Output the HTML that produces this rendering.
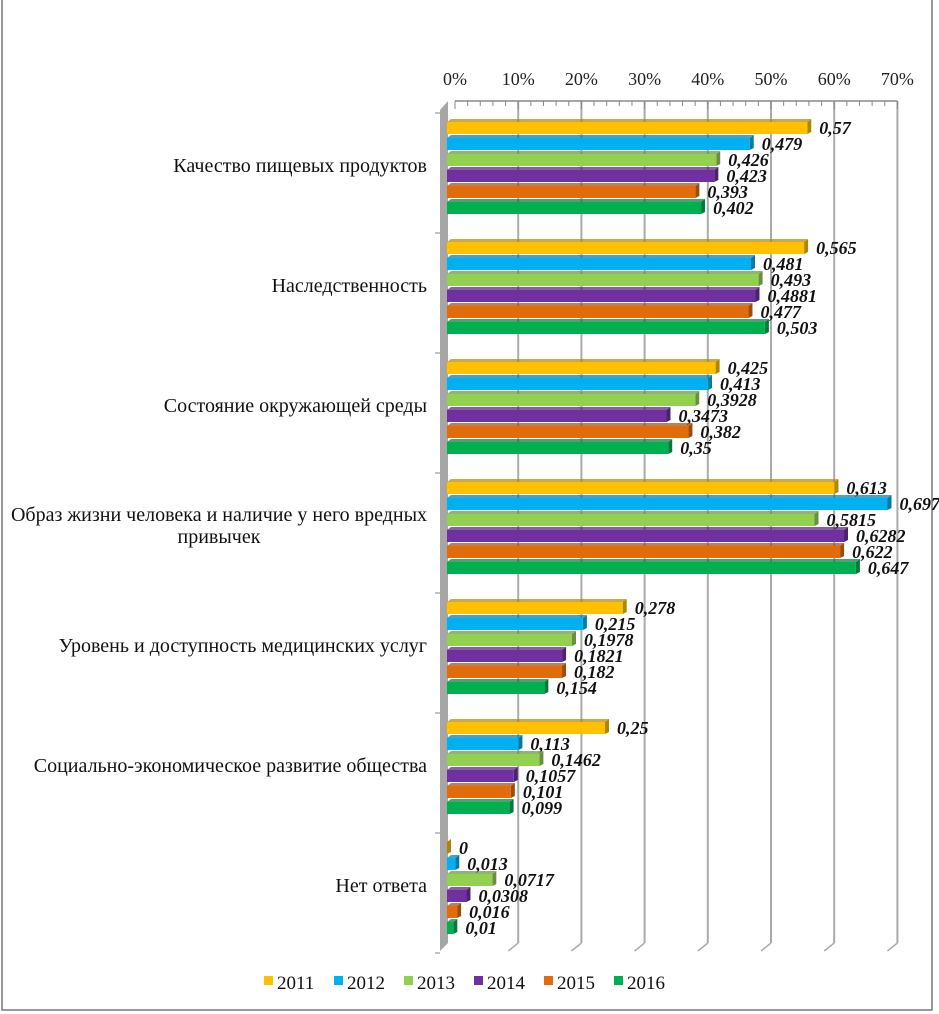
<!DOCTYPE html>
<html><head><meta charset="utf-8"><style>
body{margin:0;background:#fff;width:939px;height:1014px;overflow:hidden}
svg{display:block}
</style></head><body>
<svg id="c" width="939" height="1014" xmlns="http://www.w3.org/2000/svg" font-family="'Liberation Serif', 'DejaVu Serif', serif"></svg>
<script>
const categories=[["Качество пищевых продуктов"],["Наследственность"],["Состояние окружающей среды"],["Образ жизни человека и наличие у него вредных","привычек"],["Уровень и доступность медицинских услуг"],["Социально-экономическое развитие общества"],["Нет ответа"]];
const seriesNames=["2011","2012","2013","2014","2015","2016"];
const v2011=[0.57,0.565,0.425,0.613,0.278,0.25,0];
const v2012=[0.479,0.481,0.413,0.697,0.215,0.113,0.013];
const v2013=[0.426,0.493,0.3928,0.5815,0.1978,0.1462,0.0717];
const v2014=[0.423,0.4881,0.3473,0.6282,0.1821,0.1057,0.0308];
const v2015=[0.393,0.477,0.382,0.622,0.182,0.101,0.016];
const v2016=[0.402,0.503,0.35,0.647,0.154,0.099,0.01];
const labels2011=["0,57","0,565","0,425","0,613","0,278","0,25","0"];
const labels2012=["0,479","0,481","0,413","0,697","0,215","0,113","0,013"];
const labels2013=["0,426","0,493","0,3928","0,5815","0,1978","0,1462","0,0717"];
const labels2014=["0,423","0,4881","0,3473","0,6282","0,1821","0,1057","0,0308"];
const labels2015=["0,393","0,477","0,382","0,622","0,182","0,101","0,016"];
const labels2016=["0,402","0,503","0,35","0,647","0,154","0,099","0,01"];
const ticks=[0,0.1,0.2,0.3,0.4,0.5,0.6,0.7];
const tickLabels=["0%","10%","20%","30%","40%","50%","60%","70%"];
const series=[v2011,v2012,v2013,v2014,v2015,v2016];
const seriesLabels=[labels2011,labels2012,labels2013,labels2014,labels2015,labels2016];
const colors=["#FFC000","#00B0F0","#92D050","#7030A0","#E36C0A","#00B050"];
const dark=["#B08600","#007BA8","#65923A","#4E2170","#9E4C07","#007B38"];
const svg=document.getElementById('c');
const NS="http://www.w3.org/2000/svg";
const FF="Liberation Serif, serif";
function mk(t,a,p){const e=document.createElementNS(NS,t);for(const k in a)e.setAttribute(k,a[k]);(p||svg).appendChild(e);return e;}
const x0=447, scale=632, gOff=8, topY=118, groupH=120, barH=16;
const X=v=>x0+v*scale;
const G=i=>topY+i*groupH;
let f=mk('rect',{x:2,y:-2,width:930,height:1012,fill:'none',stroke:'#777','stroke-width':1.5});

ticks.forEach((t,i)=>{
 const gx=X(t)+gOff;
 if(i>0){const l=mk('line',{x1:gx,y1:101,x2:gx,y2:943,stroke:'#aaa','stroke-width':2});
 
 mk('line',{x1:gx,y1:943,x2:gx-10,y2:951,stroke:'#aaa','stroke-width':1.5});}
 const tx=mk('text',{x:gx,y:85,'text-anchor':'middle','font-size':18,'font-family':FF,fill:'#222'});
 tx.textContent=tickLabels[i];
 
});
for(let k=0;k<=35;k++){const gx=X(k*0.02)+gOff;mk('line',{x1:gx,y1:101,x2:gx,y2:k%5?106:109,stroke:'#888'});}
const ax=mk('line',{x1:X(0)+gOff,y1:101,x2:X(0.7)+gOff,y2:101,stroke:'#888','stroke-width':1.5});

const w=mk('polygon',{points:`${x0-7},110 ${x0+1},101 ${x0+1},943 ${x0-7},951`,fill:'#a6a6a6'});

for(let i=0;i<=categories.length;i++){mk('line',{x1:x0-12,y1:G(i)-5,x2:x0-7,y2:G(i)-5,stroke:'#888'});}
categories.forEach((cat,i)=>{
 const cy=G(i)+48;
 const n=cat.length;
 const lt=mk('text',{x:0,y:0,'text-anchor':n>1?'middle':'end','font-size':20,'font-family':FF,fill:'#111'});
 
 cat.forEach((line,j)=>{const ts=mk('tspan',{x:n>1?219:427,y:cy+6+(j-(n-1)/2)*22},lt);ts.textContent=line;});
 series.forEach((s,k)=>{
  const y=G(i)+k*barH+1, x1=X(s[i]);
  const g=mk('g',{});
  
  mk('polygon',{points:`${x1},${y+3} ${x1+4},${y} ${x1+4},${y+barH-3} ${x1},${y+barH-1}`,fill:dark[k]},g);
  mk('polygon',{points:`${x0},${y+3} ${x0+4},${y} ${x1+4},${y} ${x1},${y+3}`,fill:dark[k],opacity:0.7},g);
  mk('rect',{x:x0,y:y+3,width:Math.max(0,x1-x0),height:barH-4,fill:colors[k]},g);
  const vt=mk('text',{x:x1+12,y:y+15,'font-size':18,'font-style':'italic','font-weight':'bold','font-family':FF,fill:'#111'});
  vt.textContent=seriesLabels[k][i];
  
 });
});
let lx=264;
seriesNames.forEach((nm,k)=>{
 const g=mk('g',{});
 
 mk('rect',{x:lx,y:976,width:9,height:9,fill:colors[k]},g);
 const t=mk('text',{x:lx+13,y:989,'font-size':19,'font-family':FF,fill:'#111'},g);t.textContent=nm;
 lx+=70;
});
</script>
</body></html>
